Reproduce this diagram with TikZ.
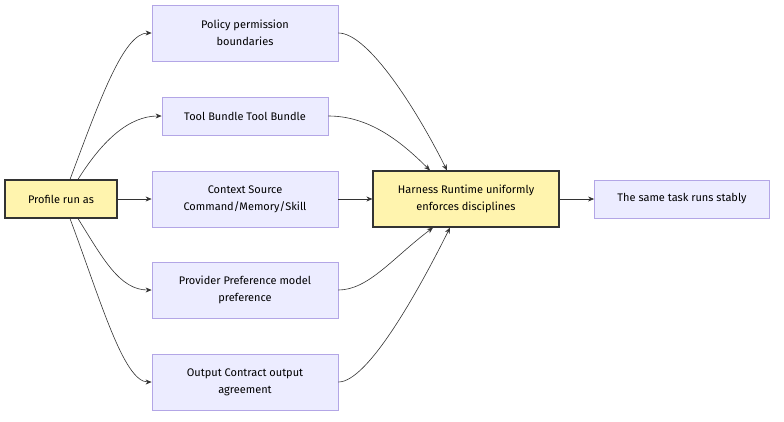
\documentclass[tikz,border=0pt]{standalone}
\usepackage{fontspec}
\setmainfont{Fira Sans}
\usetikzlibrary{arrows.meta}

\definecolor{lavfill}{HTML}{ECECFF}
\definecolor{lavline}{HTML}{B3A6E6}
\definecolor{yelfill}{HTML}{FFF4AE}
\definecolor{edgecol}{HTML}{333333}

\tikzset{
  step box/.style={draw=lavline, fill=lavfill, line width=0.8pt, align=center,
    minimum width=186pt, minimum height=56pt, inner sep=0pt, font=\fontsize{11}{17}\selectfont},
  short box/.style={step box, minimum height=38pt},
  key box/.style={draw=edgecol, fill=yelfill, line width=1.2pt, align=center,
    minimum height=38pt, inner sep=0pt, font=\fontsize{11}{17}\selectfont},
  flow/.style={draw=edgecol, line width=0.6pt, -{Stealth[length=6pt,width=5pt]}}
}

\begin{document}
\begin{tikzpicture}[x=1pt, y=-1pt]

        \useasboundingbox (0,0) rectangle (784,421);

        % Nodes
        \node[key box, minimum width=112pt] (profile) at (61,199) {Profile run as};
        \node[step box] (policy) at (245,33) {Policy permission\\boundaries};
        \node[short box, minimum width=166pt] (tools) at (245,116) {Tool Bundle Tool Bundle};
        \node[step box] (context) at (245,199) {Context Source\\Command/Memory/Skill};
        \node[step box] (provider) at (245,290) {Provider Preference model\\preference};
        \node[step box] (output) at (245,382) {Output Contract output\\agreement};
        \node[key box, minimum width=186pt, minimum height=56pt] (harness) at (466,199) {Harness Runtime uniformly\\enforces disciplines};
        \node[short box, minimum width=175pt] (stable) at (682,199) {The same task runs stably};

        % Edges out of the profile
        \draw[flow] ([xshift=9pt]profile.north) .. controls +(30,-80) and +(-28,0) .. (policy.west);
        \draw[flow] ([xshift=17pt]profile.north) .. controls +(25,-40) and +(-32,0) .. (tools.west);
        \draw[flow] (profile.east) -- (context.west);
        \draw[flow] ([xshift=17pt]profile.south) .. controls +(25,40) and +(-32,0) .. (provider.west);
        \draw[flow] ([xshift=9pt]profile.south) .. controls +(30,80) and +(-28,0) .. (output.west);

        % Edges into the runtime
        \draw[flow] (policy.east) .. controls +(30,0) and +(-30,-60) .. ([xshift=-19pt]harness.north);
        \draw[flow] (tools.east) .. controls +(40,0) and +(-30,-30) .. ([xshift=-36pt]harness.north);
        \draw[flow] (context.east) -- (harness.west);
        \draw[flow] (provider.east) .. controls +(30,0) and +(-40,30) .. ([xshift=-33pt]harness.south);
        \draw[flow] (output.east) .. controls +(30,0) and +(-30,60) .. ([xshift=-16pt]harness.south);
        \draw[flow] (harness.east) -- (stable.west);

\end{tikzpicture}
\end{document}
